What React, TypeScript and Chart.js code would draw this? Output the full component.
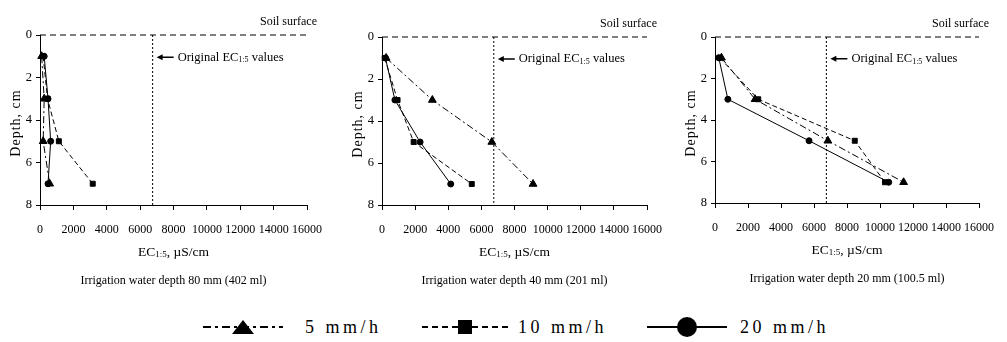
import React, { useEffect, useRef } from 'react';
import { Chart, registerables } from 'chart.js';

Chart.register(...registerables);

// ---------- data ----------
const DEPTHS = [1, 3, 5, 7];
const SERIES_LABELS = ['5 mm/h', '10 mm/h', '20 mm/h'];

const EC_80MM_5 = [100, 250, 190, 580];
const EC_80MM_10 = [190, 450, 1130, 3160];
const EC_80MM_20 = [250, 480, 640, 480];

const EC_40MM_5 = [250, 3040, 6630, 9120];
const EC_40MM_10 = [160, 940, 1910, 5420];
const EC_40MM_20 = [210, 780, 2300, 4150];

const EC_20MM_5 = [390, 2430, 6840, 11430];
const EC_20MM_10 = [290, 2620, 8470, 10300];
const EC_20MM_20 = [230, 780, 5700, 10530];

const ORIGINAL_EC = 6750;
const SOIL_SURFACE_DEPTH = 0;
const X_MIN = 0;
const X_MAX = 16000;
const X_STEP = 2000;
const Y_MIN = 0;
const Y_MAX = 8;
const Y_STEP = 2;

const CAPTIONS = [
  'Irrigation water depth 80 mm (402 ml)',
  'Irrigation water depth 40 mm (201 ml)',
  'Irrigation water depth 20 mm (100.5 ml)',
];

// ---------- styling ----------
const FONT = '"Liberation Serif", "Times New Roman", serif';
const DASHES = [[7, 3, 2, 3], [5, 3], []];
const POINT_STYLES = ['triangle', 'rect', 'circle'];
const POINT_RADII = [4.5, 3.5, 3];

const PANELS = [
  { left: 0, width: 335, areaLeft: 40, areaRight: 315, areaTop: 35, areaBottom: 205 },
  { left: 340, width: 335, areaLeft: 42, areaRight: 316, areaTop: 37, areaBottom: 205 },
  { left: 675, width: 332, areaLeft: 40, areaRight: 314, areaTop: 37, areaBottom: 203 },
];
const CANVAS_H = 300;
const X_AXIS_H = 30;

const PANEL_SERIES = [
  [EC_80MM_5, EC_80MM_10, EC_80MM_20],
  [EC_40MM_5, EC_40MM_10, EC_40MM_20],
  [EC_20MM_5, EC_20MM_10, EC_20MM_20],
];

function drawParts(ctx: CanvasRenderingContext2D, parts: [string, boolean][], x: number, y: number, size: number, align: 'left' | 'center') {
  const subSize = Math.round(size * 0.65);
  let total = 0;
  for (const [t, sub] of parts) {
    ctx.font = `${sub ? subSize : size}px ${FONT}`;
    total += ctx.measureText(t).width;
  }
  let cx = align === 'center' ? x - total / 2 : x;
  ctx.textAlign = 'left';
  ctx.textBaseline = 'middle';
  for (const [t, sub] of parts) {
    ctx.font = `${sub ? subSize : size}px ${FONT}`;
    ctx.fillText(t, cx, sub ? y + 3 : y);
    cx += ctx.measureText(t).width;
  }
}

function Panel({ idx }: { idx: number }) {
  const ref = useRef<HTMLCanvasElement>(null);
  const cfg = PANELS[idx];
  useEffect(() => {
    if (!ref.current) return;
    const series = PANEL_SERIES[idx];
    const datasets: any[] = series.map((vals, s) => ({
      label: SERIES_LABELS[s],
      data: vals.map((v, i) => ({ x: v, y: DEPTHS[i] })),
      borderColor: '#000',
      backgroundColor: '#000',
      borderWidth: 1,
      borderDash: DASHES[s],
      pointStyle: POINT_STYLES[s],
      pointRadius: POINT_RADII[s],
      pointBackgroundColor: '#000',
      pointBorderColor: '#000',
      tension: 0,
      clip: false,
    }));
    datasets.push({
      label: 'original',
      data: [{ x: ORIGINAL_EC, y: Y_MIN }, { x: ORIGINAL_EC, y: Y_MAX }],
      borderColor: '#000',
      borderWidth: 1,
      borderDash: [2, 2],
      pointRadius: 0,
      clip: false,
    });
    datasets.push({
      label: 'surface',
      data: [{ x: X_MIN, y: SOIL_SURFACE_DEPTH }, { x: X_MAX, y: SOIL_SURFACE_DEPTH }],
      borderColor: '#000',
      borderWidth: 1,
      borderDash: [6, 4],
      pointRadius: 0,
      clip: false,
    });

    const annot = {
      id: 'annot',
      afterDraw(chart: any) {
        const ctx: CanvasRenderingContext2D = chart.ctx;
        const area = chart.chartArea;
        const xs = chart.scales.x;
        const ys = chart.scales.y;
        ctx.save();
        ctx.fillStyle = '#000';
        ctx.strokeStyle = '#000';
        // Soil surface
        ctx.font = `12px ${FONT}`;
        ctx.textAlign = 'right';
        ctx.textBaseline = 'middle';
        ctx.fillText('Soil surface', area.right + 10, area.top - 13);
        // arrow + label
        const x0 = xs.getPixelForValue(ORIGINAL_EC) + 4;
        const y0 = ys.getPixelForValue(1) + 1;
        ctx.lineWidth = 1.5;
        ctx.beginPath();
        ctx.moveTo(x0 + 4, y0);
        ctx.lineTo(x0 + 17, y0);
        ctx.stroke();
        ctx.beginPath();
        ctx.moveTo(x0, y0);
        ctx.lineTo(x0 + 6, y0 - 3);
        ctx.lineTo(x0 + 6, y0 + 3);
        ctx.closePath();
        ctx.fill();
        drawParts(ctx, [['Original EC', false], ['1:5', true], [' values', false]], x0 + 21, y0, 12.5, 'left');
        // x title
        const cxm = (area.left + area.right) / 2;
        drawParts(ctx, [['EC', false], ['1:5', true], [', µS/cm', false]], cxm, area.bottom + 47, 13.5, 'center');
        // caption
        ctx.font = `12px ${FONT}`;
        ctx.textAlign = 'center';
        ctx.textBaseline = 'middle';
        ctx.fillText(CAPTIONS[idx], cxm, area.bottom + 76);
        // y title
        ctx.save();
        ctx.translate(area.left - 24, (area.top + area.bottom) / 2 + 3);
        ctx.rotate(-Math.PI / 2);
        ctx.font = `14px ${FONT}`;
        (ctx as any).letterSpacing = '1px';
        ctx.textAlign = 'center';
        ctx.textBaseline = 'middle';
        ctx.fillText('Depth, cm', 0, 0);
        ctx.restore();
        ctx.restore();
      },
    };

    const chart = new Chart(ref.current, {
      type: 'line',
      data: { datasets },
      options: {
        responsive: false,
        animation: false,
        devicePixelRatio: 1,
        layout: {
          padding: {
            left: 0,
            top: cfg.areaTop,
            right: cfg.width - cfg.areaRight,
            bottom: CANVAS_H - cfg.areaBottom - X_AXIS_H,
          },
        },
        plugins: { legend: { display: false }, tooltip: { enabled: false } },
        scales: {
          x: {
            type: 'linear',
            min: X_MIN,
            max: X_MAX,
            ticks: {
              stepSize: X_STEP,
              autoSkip: false,
              color: '#000',
              padding: 13,
              maxRotation: 0,
              minRotation: 0,
              font: { family: FONT, size: 12 },
              callback: (v: any) => String(v),
            },
            grid: { display: true, drawOnChartArea: false, drawTicks: true, tickLength: 5, color: '#000' },
            border: { display: true, color: '#000', width: 1 },
            afterFit: (s: any) => { s.height = X_AXIS_H; },
          },
          y: {
            type: 'linear',
            reverse: true,
            min: Y_MIN,
            max: Y_MAX,
            ticks: { stepSize: Y_STEP, color: '#000', padding: 4, font: { family: FONT, size: 12.5 }, callback: (v: any) => String(v) },
            grid: { display: true, drawOnChartArea: false, drawTicks: true, tickLength: 4, color: '#000' },
            border: { display: true, color: '#000', width: 1 },
            afterFit: (s: any) => { s.width = cfg.areaLeft; },
          },
        },
      } as any,
      plugins: [annot],
    });
    return () => chart.destroy();
  }, [idx]);
  return (
    <canvas
      ref={ref}
      width={cfg.width}
      height={CANVAS_H}
      style={{ position: 'absolute', left: cfg.left, top: 0, width: cfg.width, height: CANVAS_H }}
    />
  );
}

function LegendItem({ idx, left, width, text }: { idx: number; left: number; width: number; text: number }) {
  const mid = width / 2;
  const dash = DASHES[idx].length ? DASHES[idx].map((d) => d + 1).join(',') : undefined;
  let marker: React.ReactNode;
  if (idx === 0) marker = <polygon points={`${mid - 11},19 ${mid},5 ${mid + 11},19`} fill="#000" />;
  else if (idx === 1) marker = <rect x={mid - 7} y={5} width={14} height={14} fill="#000" />;
  else marker = <circle cx={mid} cy={12} r={10} fill="#000" />;
  return (
    <>
      <svg style={{ position: 'absolute', left, top: 315, width, height: 24 }} width={width} height={24}>
        <line x1={0} y1={12} x2={width} y2={12} stroke="#000" strokeWidth={2} strokeDasharray={dash} />
        {marker}
      </svg>
      <span
        style={{
          position: 'absolute',
          left: text,
          top: 315,
          height: 24,
          lineHeight: '24px',
          fontFamily: FONT,
          fontSize: 18,
          letterSpacing: 3.5,
          whiteSpace: 'nowrap',
          color: '#000',
        }}
      >
        {SERIES_LABELS[idx]}
      </span>
    </>
  );
}

export default function App() {
  return (
    <div style={{ position: 'fixed', left: 0, top: 0, width: 1007, height: 342, background: '#fff', overflow: 'hidden' }}>
      <Panel idx={0} />
      <Panel idx={1} />
      <Panel idx={2} />
      <LegendItem idx={0} left={203} width={80} text={305} />
      <LegendItem idx={1} left={422} width={86} text={518} />
      <LegendItem idx={2} left={647} width={80} text={740} />
    </div>
  );
}
